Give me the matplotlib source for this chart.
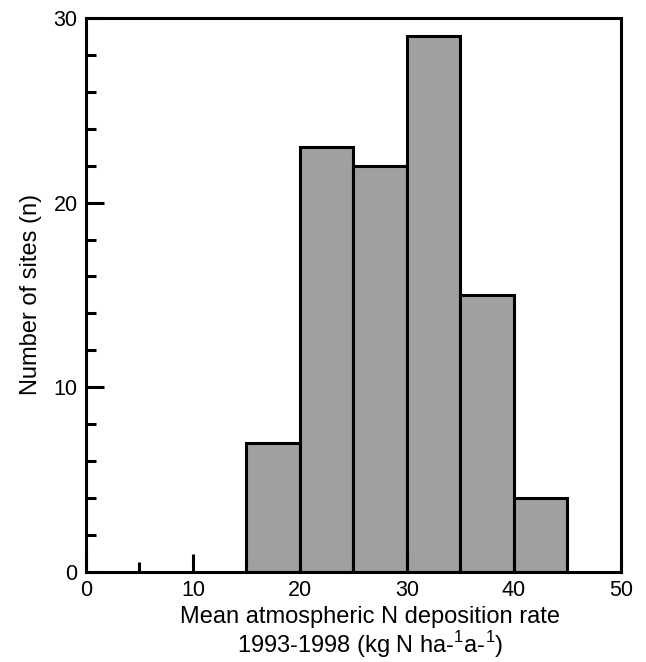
import matplotlib.pyplot as plt
from matplotlib.ticker import MultipleLocator

plt.rcParams['font.family'] = ['Liberation Sans', 'DejaVu Sans']
plt.rcParams['mathtext.fontset'] = 'custom'
plt.rcParams['mathtext.rm'] = 'Liberation Sans'

# Histogram bins (kg N ha-1 a-1) and site counts
bin_left = [15, 20, 25, 30, 35, 40]
bin_width = 5
counts = [7, 23, 22, 29, 15, 4]

fig = plt.figure(figsize=(6.46, 6.62), dpi=100)
ax = fig.add_axes([0.133, 0.136, 0.828, 0.837])

ax.bar(bin_left, counts, width=bin_width, align='edge',
       color='#a0a0a0', edgecolor='black', linewidth=2.2)

ax.set_xlim(0, 50)
ax.set_ylim(0, 30)
ax.xaxis.set_major_locator(MultipleLocator(10))
ax.xaxis.set_minor_locator(MultipleLocator(5))
ax.yaxis.set_major_locator(MultipleLocator(10))
ax.yaxis.set_minor_locator(MultipleLocator(2))

ax.tick_params(which='both', direction='in', width=2.2, labelsize=15.5,
               top=False, right=False)
ax.tick_params(which='major', length=13, pad=6)
ax.tick_params(which='minor', length=7.5)
ax.tick_params(axis='y', pad=6)

for s in ax.spines.values():
    s.set_linewidth(2.2)

ax.set_xlabel('Mean atmospheric N deposition rate\n'
              '1993-1998 (kg N ha-$^{\\mathregular{1}}$a-$^{\\mathregular{1}}$)',
              fontsize=17, linespacing=1.05)
ax.xaxis.set_label_coords(0.531, -0.062)
ax.set_ylabel('Number of sites (n)', fontsize=17, labelpad=8)

fig.savefig('out.png', dpi=100)
